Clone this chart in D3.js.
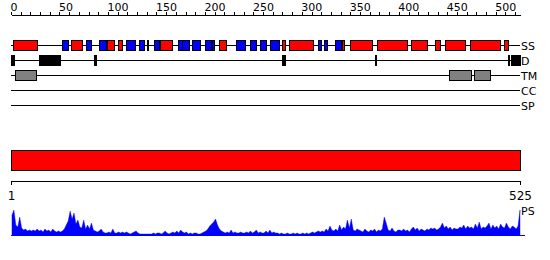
<!DOCTYPE html>
<html>
<head>
<meta charset="utf-8">
<script src="https://cdn.jsdelivr.net/npm/d3@7"></script>
<style>
  html, body { margin: 0; padding: 0; background: #fff; }
  svg { display: block; font-family: "DejaVu Sans", sans-serif; }
</style>
</head>
<body>
<svg id="chart" width="550" height="260"></svg>
<script>
// Protein feature overview: secondary structure, disorder, TM, CC, SP, plus PS profile.

const SEQ_LENGTH = 525;
const TRACKS = ["SS", "D", "TM", "CC", "SP"];

// secondary structure: [start, end, type] (H = helix, E = strand)
const SS_SEGMENTS = [
  [2, 27, "H"], [53, 59, "E"], [62, 73, "H"], [77, 83, "E"], [91, 98, "E"],
  [99, 106, "H"], [110, 115, "H"], [119, 128, "E"], [132, 137, "E"], [140, 141, "H"],
  [148, 153, "E"], [154, 166, "H"], [172, 176, "E"], [176, 184, "E"], [187, 195, "E"],
  [200, 206, "E"], [207, 209, "E"], [215, 222, "H"], [232, 241, "E"], [247, 253, "E"],
  [257, 263, "E"], [267, 276, "E"], [280, 283, "H"], [287, 312, "H"], [317, 320, "E"],
  [323, 326, "E"], [334, 340, "E"], [341, 343, "H"], [350, 372, "H"], [378, 408, "H"],
  [413, 429, "H"], [437, 443, "H"], [448, 468, "H"], [473, 504, "H"], [508, 513, "H"]
];

// disordered regions
const DISORDER = [[0, 3], [29, 51], [86, 88], [280, 283], [375, 376], [513, 514], [516, 525]];

// transmembrane segments
const TM_SEGMENTS = [[4, 26], [452, 474], [478, 494]];

const CC_SEGMENTS = [];
const SP_SEGMENTS = [];

// PS profile, one value every 2 residues (1, 3, 5, ... 525)
const PS_RESIDUES = d3.range(1, 526, 2);
const PS_VALUES = [
  20, 25, 10, 8, 18, 7, 5, 6, 4, 5,
  4, 5, 4, 6, 4, 5, 3, 6, 4, 5,
  3, 6, 4, 3, 4, 3, 4, 6, 10, 14,
  24, 16, 22, 11, 15, 8, 7, 15, 6, 10,
  6, 12, 5, 4, 3, 4, 6, 3, 2, 2,
  3, 2, 6, 2, 2, 3, 2, 3, 2, 3,
  2, 1, 2, 3, 4, 2, 1, 1, 1, 1,
  1, 1, 1, 2, 1, 2, 2, 1, 2, 4,
  2, 1, 2, 3, 2, 4, 2, 5, 3, 2,
  3, 1, 2, 1, 2, 2, 1, 1, 2, 3,
  4, 6, 9, 11, 13, 16, 10, 6, 4, 3,
  2, 3, 2, 5, 2, 3, 2, 2, 3, 2,
  2, 3, 2, 4, 2, 3, 5, 2, 3, 2,
  2, 4, 2, 5, 2, 3, 2, 2, 1, 2,
  1, 1, 2, 1, 1, 2, 1, 2, 1, 1,
  2, 1, 2, 1, 2, 3, 2, 3, 4, 3,
  4, 3, 6, 4, 9, 5, 4, 6, 4, 10,
  5, 8, 6, 15, 7, 16, 5, 4, 6, 5,
  4, 3, 6, 4, 3, 5, 4, 6, 3, 5,
  4, 6, 18, 12, 5, 4, 7, 4, 3, 5,
  5, 4, 6, 4, 5, 3, 6, 8, 5, 7,
  4, 6, 5, 4, 6, 5, 7, 6, 7, 5,
  6, 8, 12, 7, 9, 6, 8, 5, 7, 6,
  6, 8, 7, 10, 6, 9, 7, 8, 6, 11,
  7, 13, 6, 8, 7, 9, 12, 6, 10, 7,
  9, 6, 11, 8, 7, 12, 8, 6, 9, 8,
  6, 9, 25
];

const svg = d3.select("#chart");

const x = d3.scaleLinear().domain([0, SEQ_LENGTH]).range([11, 520]);
const rowY = d3.scalePoint().domain(TRACKS).range([45, 105]);
const BOX_H = 10;

const COLORS = { H: "#ff0000", E: "#0000ff", D: "#000000", TM: "#808080" };

// top ruler
const topAxis = d3.axisTop(x)
  .tickValues(d3.range(0, 521, 10))
  .tickSize(3)
  .tickSizeOuter(0)
  .tickFormat(d => d % 50 === 0 ? d : "");

const axisG = svg.append("g")
  .attr("transform", "translate(0,15)")
  .call(topAxis);
axisG.select(".domain").attr("stroke", "#000").attr("shape-rendering", "crispEdges");
axisG.selectAll(".tick line").attr("stroke", "#000").attr("shape-rendering", "crispEdges");
axisG.selectAll(".tick text")
  .attr("text-anchor", "start")
  .attr("x", -1)
  .attr("y", -4.5)
  .attr("dy", 0)
  .attr("font-family", "DejaVu Sans")
  .attr("font-size", 11)
  .attr("fill", "#000");

// track baselines + labels
const tracks = svg.append("g");
tracks.selectAll("line")
  .data(TRACKS)
  .join("line")
  .attr("x1", x(0)).attr("x2", x(SEQ_LENGTH))
  .attr("y1", d => rowY(d) + 0.5).attr("y2", d => rowY(d) + 0.5)
  .attr("stroke", "#000")
  .attr("shape-rendering", "crispEdges");

tracks.selectAll("text")
  .data(TRACKS)
  .join("text")
  .attr("x", x(SEQ_LENGTH) + 1)
  .attr("y", d => rowY(d) + 4.5)
  .attr("font-size", 11)
  .attr("fill", "#000")
  .text(d => d);

function drawBoxes(data, track, fill) {
  svg.append("g").selectAll("rect")
    .data(data)
    .join("rect")
    .attr("x", d => Math.round(x(d[0])) + 0.5)
    .attr("width", d => Math.max(1, Math.round(x(d[1])) - Math.round(x(d[0]))))
    .attr("y", rowY(track) - BOX_H / 2 + 0.5)
    .attr("height", BOX_H)
    .attr("fill", fill)
    .attr("stroke", "#000")
    .attr("stroke-width", 1);
}

drawBoxes(SS_SEGMENTS, "SS", d => COLORS[d[2]]);
drawBoxes(DISORDER, "D", COLORS.D);
drawBoxes(TM_SEGMENTS, "TM", COLORS.TM);
drawBoxes(CC_SEGMENTS, "CC", "#00aa00");
drawBoxes(SP_SEGMENTS, "SP", "#ffaa00");

// full-length domain bar
svg.append("rect")
  .attr("x", x(0) + 0.5)
  .attr("y", 150.5)
  .attr("width", x(SEQ_LENGTH) - x(0))
  .attr("height", 20)
  .attr("fill", "#ff0000")
  .attr("stroke", "#000");

// bottom ruler with start/end labels
const bottomAxis = d3.axisBottom(x)
  .tickValues([0, SEQ_LENGTH])
  .tickSize(4)
  .tickSizeOuter(0)
  .tickFormat(d => d === 0 ? "1" : String(SEQ_LENGTH));

const bAxis = svg.append("g")
  .attr("transform", "translate(0,180.5)")
  .call(bottomAxis);
bAxis.select(".domain").attr("stroke", "#000").attr("shape-rendering", "crispEdges");
bAxis.selectAll(".tick line").attr("stroke", "#000").attr("shape-rendering", "crispEdges");
bAxis.selectAll(".tick text")
  .attr("y", 19)
  .attr("dy", 0)
  .attr("font-family", "DejaVu Sans")
  .attr("font-size", 12)
  .attr("fill", "#000");

// PS profile
const psY = d3.scaleLinear().domain([0, 25]).range([235, 210]);
const n = Math.min(PS_RESIDUES.length, PS_VALUES.length);
const psData = d3.range(n).map(i => [PS_RESIDUES[i], PS_VALUES[i]]);

svg.append("path")
  .datum(psData)
  .attr("fill", "#0000ff")
  .attr("stroke", "#0000ff")
  .attr("stroke-width", 0.4)
  .attr("d", d3.area().x(d => x(d[0])).y0(psY(0)).y1(d => psY(d[1])));

svg.append("line")
  .attr("x1", x(0)).attr("x2", x(SEQ_LENGTH) + 5)
  .attr("y1", psY(0) + 0.5).attr("y2", psY(0) + 0.5)
  .attr("stroke", "#0000ff")
  .attr("shape-rendering", "crispEdges");

svg.append("text")
  .attr("x", x(SEQ_LENGTH) + 1)
  .attr("y", 215)
  .attr("font-size", 11)
  .attr("fill", "#000")
  .text("PS");
</script>
</body>
</html>
